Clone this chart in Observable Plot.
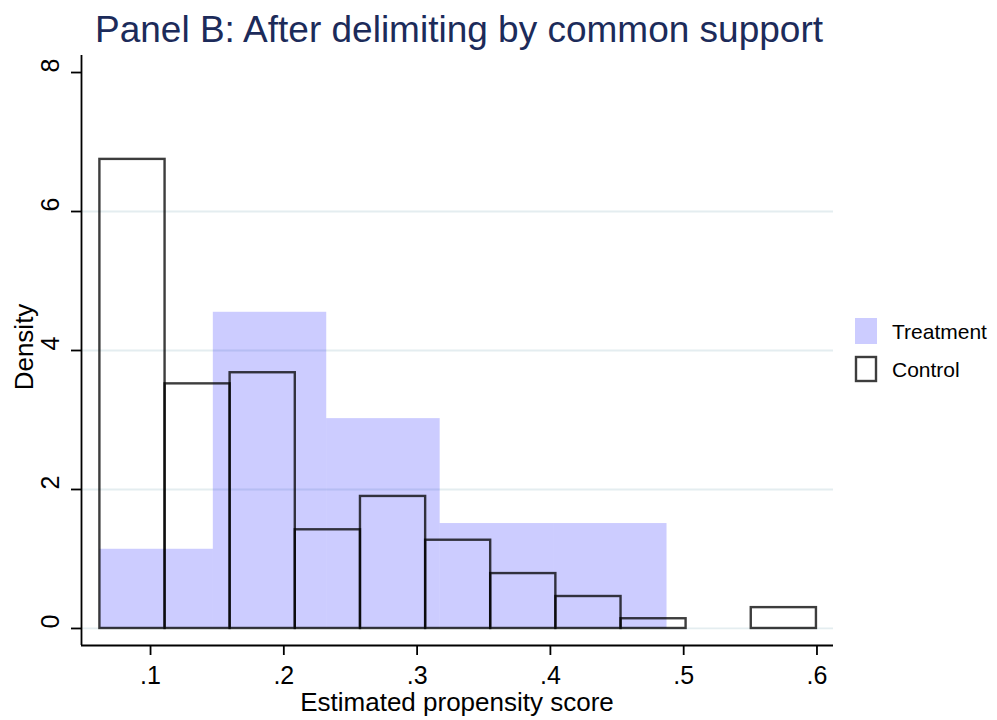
<!DOCTYPE html>
<html>
<head>
<meta charset="utf-8">
<script src="https://cdn.jsdelivr.net/npm/d3@7"></script>
<script src="https://cdn.jsdelivr.net/npm/@observablehq/plot@0.6"></script>
<style>
  html, body { margin: 0; padding: 0; background: #fff; }
  #chart { width: 997px; height: 720px; }
</style>
</head>
<body>
<div id="chart"></div>
<script>
// ---- Data ----
const titleText = "Panel B: After delimiting by common support";
const xLabel = "Estimated propensity score";
const yLabel = "Density";
const seriesNames = ["Treatment", "Control"];

const xTicks = [0.1, 0.2, 0.3, 0.4, 0.5, 0.6];
const xTickLabels = [".1", ".2", ".3", ".4", ".5", ".6"];
const yTicks = [0, 2, 4, 6, 8];
const yTickLabels = ["0", "2", "4", "6", "8"];
const gridValues = [0, 2, 4, 6];

// Treatment histogram bins (lower edge, upper edge, density)
const treatLow  = [0.0620, 0.1471, 0.2322, 0.3173, 0.4024];
const treatHigh = [0.1471, 0.2322, 0.3173, 0.4024, 0.4875];
const treatDensity = [1.14, 4.55, 3.02, 1.51, 1.51];

// Control histogram bins (lower edge, upper edge, density)
const ctrlLow  = [0.0620, 0.1109, 0.1597, 0.2086, 0.2575, 0.3064, 0.3552, 0.4041, 0.4530, 0.5018, 0.5507];
const ctrlHigh = [0.1109, 0.1597, 0.2086, 0.2575, 0.3064, 0.3552, 0.4041, 0.4530, 0.5018, 0.5507, 0.5996];
const ctrlDensity = [6.75, 3.52, 3.68, 1.42, 1.90, 1.27, 0.79, 0.46, 0.14, 0, 0.30];

// ---- Build tables ----
const treatment = treatLow.map((d, i) => ({x1: d, x2: treatHigh[i], y: treatDensity[i]}));
const control = ctrlLow.map((d, i) => ({x1: d, x2: ctrlHigh[i], y: ctrlDensity[i]})).filter(d => d.y > 0);
const xTickData = xTicks.map((v, i) => ({v, t: xTickLabels[i]}));
const yTickData = yTicks.map((v, i) => ({v, t: yTickLabels[i]}));

const xDomain = [0.0482, 0.6124];
const yDomain = [-0.245, 8.245];
const font = "'Liberation Sans', Arial, Helvetica, sans-serif";
const axisColor = "#000";

const plot = Plot.plot({
  width: 997,
  height: 720,
  marginLeft: 81,
  marginRight: 164,
  marginTop: 55,
  marginBottom: 75,
  x: {domain: xDomain, axis: null},
  y: {domain: yDomain, axis: null},
  style: {fontFamily: font, background: "#fff", color: "#000", overflow: "visible"},
  marks: [
    Plot.ruleY(gridValues, {stroke: "#e4edf0", strokeWidth: 1.8}),
    Plot.rect(treatment, {x1: "x1", x2: "x2", y1: 0, y2: "y", fill: "blue", fillOpacity: 0.2}),
    Plot.rect(control, {x1: "x1", x2: "x2", y1: 0, y2: "y", fill: "none", stroke: "#000", strokeOpacity: 0.76, strokeWidth: 2.4}),
    // axis lines
    Plot.ruleX([xDomain[0]], {stroke: axisColor, strokeWidth: 1.8}),
    Plot.ruleY([yDomain[0]], {stroke: axisColor, strokeWidth: 1.8}),
    // tick marks
    Plot.axisX({ticks: xTicks, tickSize: 10, tickFormat: () => "", stroke: axisColor, strokeWidth: 1.8, label: null}),
    Plot.axisY({ticks: yTicks, tickSize: 10, tickFormat: () => "", stroke: axisColor, strokeWidth: 1.8, label: null}),
    // tick labels
    Plot.text(xTickData, {x: "v", text: "t", frameAnchor: "bottom", dy: 30, lineAnchor: "middle", fontSize: 25, fill: "#000"}),
    Plot.text(yTickData, {y: "v", text: "t", frameAnchor: "left", dx: -31, rotate: -90, lineAnchor: "middle", fontSize: 25, fill: "#000"})
  ]
});

document.getElementById("chart").appendChild(plot);

// ---- Titles and legend ----
const svg = d3.select(plot);
svg.append("text")
  .attr("x", 459).attr("y", 42)
  .attr("text-anchor", "middle")
  .attr("font-family", font).attr("font-size", 37)
  .attr("fill", "#1c2b5a")
  .text(titleText);

svg.append("text")
  .attr("x", 457).attr("y", 711)
  .attr("text-anchor", "middle")
  .attr("font-family", font).attr("font-size", 26)
  .attr("fill", "#000")
  .text(xLabel);

svg.append("text")
  .attr("transform", "translate(33,347) rotate(-90)")
  .attr("text-anchor", "middle")
  .attr("font-family", font).attr("font-size", 26)
  .attr("fill", "#000")
  .text(yLabel);

const legend = svg.append("g");
legend.append("rect")
  .attr("x", 855).attr("y", 318).attr("width", 22).attr("height", 26)
  .attr("fill", "blue").attr("fill-opacity", 0.2);
legend.append("rect")
  .attr("x", 856).attr("y", 357).attr("width", 20).attr("height", 24)
  .attr("fill", "none").attr("stroke", "#000").attr("stroke-opacity", 0.76).attr("stroke-width", 2.4);
legend.append("text")
  .attr("x", 892).attr("y", 339)
  .attr("text-anchor", "start")
  .attr("font-family", font).attr("font-size", 21).attr("fill", "#000")
  .text(seriesNames[0]);
legend.append("text")
  .attr("x", 892).attr("y", 377)
  .attr("text-anchor", "start")
  .attr("font-family", font).attr("font-size", 21).attr("fill", "#000")
  .text(seriesNames[1]);
</script>
</body>
</html>
